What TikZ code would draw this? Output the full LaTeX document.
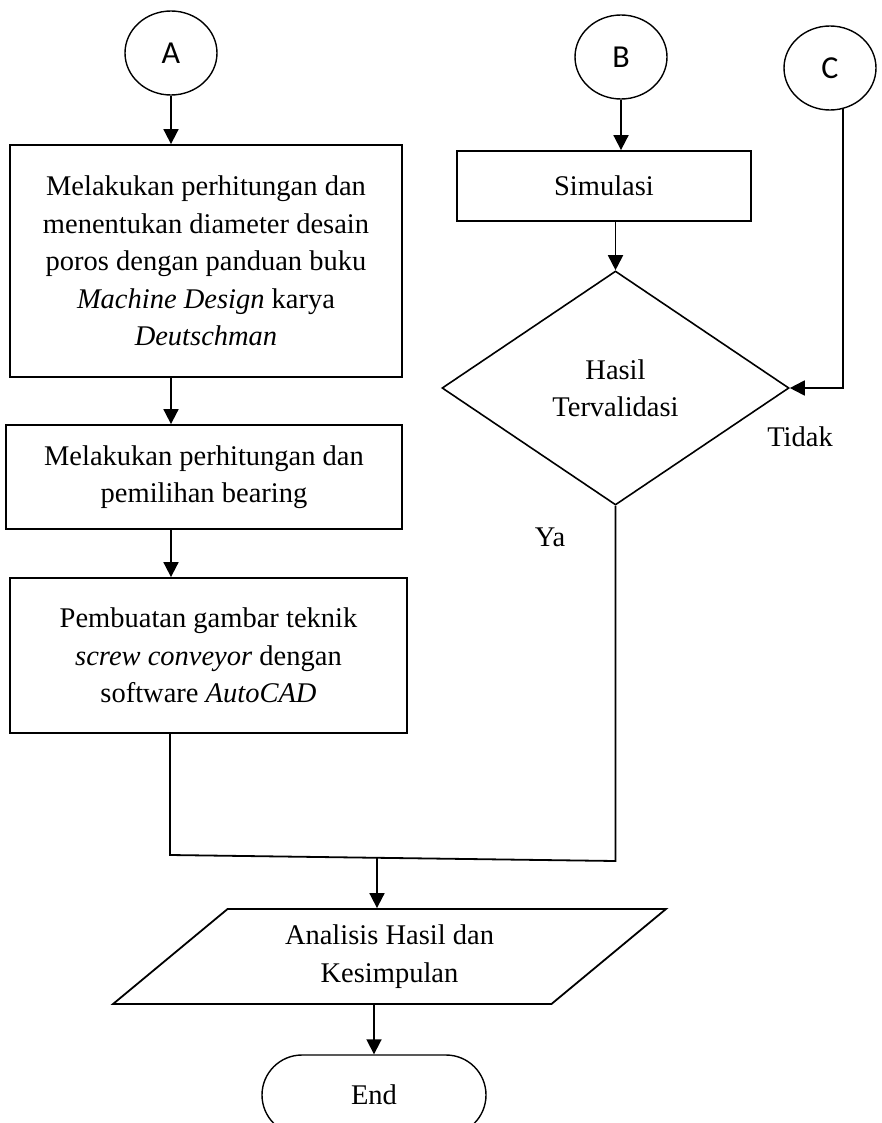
\documentclass[tikz,border=0pt]{standalone}
\usepackage{fontspec}
\setmainfont{Liberation Serif}
\newfontfamily\circfont{Carlito}
\usetikzlibrary{arrows.meta,shapes.geometric}

\begin{document}
\begin{tikzpicture}[x=1pt,y=-1pt,>={Triangle[width=15pt,length=15pt]},line width=1.8pt,
    font=\fontsize{28.5}{37.5}\selectfont]
    \tikzset{
      box/.style={draw, align=center, inner sep=0pt},
      conn/.style={draw, ellipse, line width=1.4pt, minimum width=92pt, minimum height=84pt,
        font=\circfont\fontsize{32}{34}\selectfont},
      decision/.style={draw, diamond, align=center, inner sep=0pt, line width=1.6pt,
        minimum width=347pt, minimum height=234pt},
      io/.style={draw, trapezium, trapezium left angle=40.6, trapezium right angle=139.4,
        trapezium stretches=true, align=center, inner sep=0pt,
        minimum width=555pt, minimum height=95pt},
      term/.style={draw, line width=1.4pt, rounded corners=40pt, minimum width=224pt, minimum height=80pt}
    }
    \clip (0,0) rectangle (882,1123);
    % Connectors
    \node[conn] (A) at (171,53)  {A};
    \node[conn] (B) at (621,57)  {B};
    \node[conn] (C) at (830,68)  {C};
    % Left column
    \node[box, minimum width=392pt, minimum height=232pt] (box1) at (206,261)
      {Melakukan perhitungan dan\\menentukan diameter desain\\poros dengan panduan buku\\\textit{Machine Design} karya\\\textit{Deutschman}};
    \node[box, minimum width=396pt, minimum height=104pt] (box2) at (204,477)
      {Melakukan perhitungan dan\\pemilihan bearing};
    \node[box, minimum width=397pt, minimum height=155pt] (box3) at (208.5,655.5)
      {Pembuatan gambar teknik\\\textit{screw conveyor} dengan\\software \textit{AutoCAD}};
    % Right column
    \node[box, minimum width=294pt, minimum height=70pt] (sim) at (604,186) {Simulasi};
    \node[decision] (check) at (615.5,388) {Hasil\\Tervalidasi};
    \node (tidak) at (800,437) {Tidak};
    \node (ya)    at (550,537) {Ya};
    % Bottom
    \node[io]   (out)  at (389.5,956.5) {Analisis Hasil dan\\Kesimpulan};
    \node[term] (stop) at (374,1095) {End};
    \coordinate (jl) at (170,855);
    \coordinate (jr) at (615.5,861);
    \coordinate (jm) at (377,858);

    % Arrows
    \draw[->] (A) -- (A |- box1.north);
    \draw[->] (A |- box1.south) -- (A |- box2.north);
    \draw[->] (A |- box2.south) -- (A |- box3.north);
    \draw[->] (B) -- (B |- sim.north);
    \draw[->] (sim.south -| check) -- (check);
    \draw[->] ([shift={(13pt,2pt)}]C.south) |- (check.east);
    \draw (jl |- box3.south) -- (jl) -- (jr) -- (check);
    \draw[->] (jm) -- (jm |- out.north);
    \draw[->] (stop |- out.south) -- (stop);

  \end{tikzpicture}
\end{document}
